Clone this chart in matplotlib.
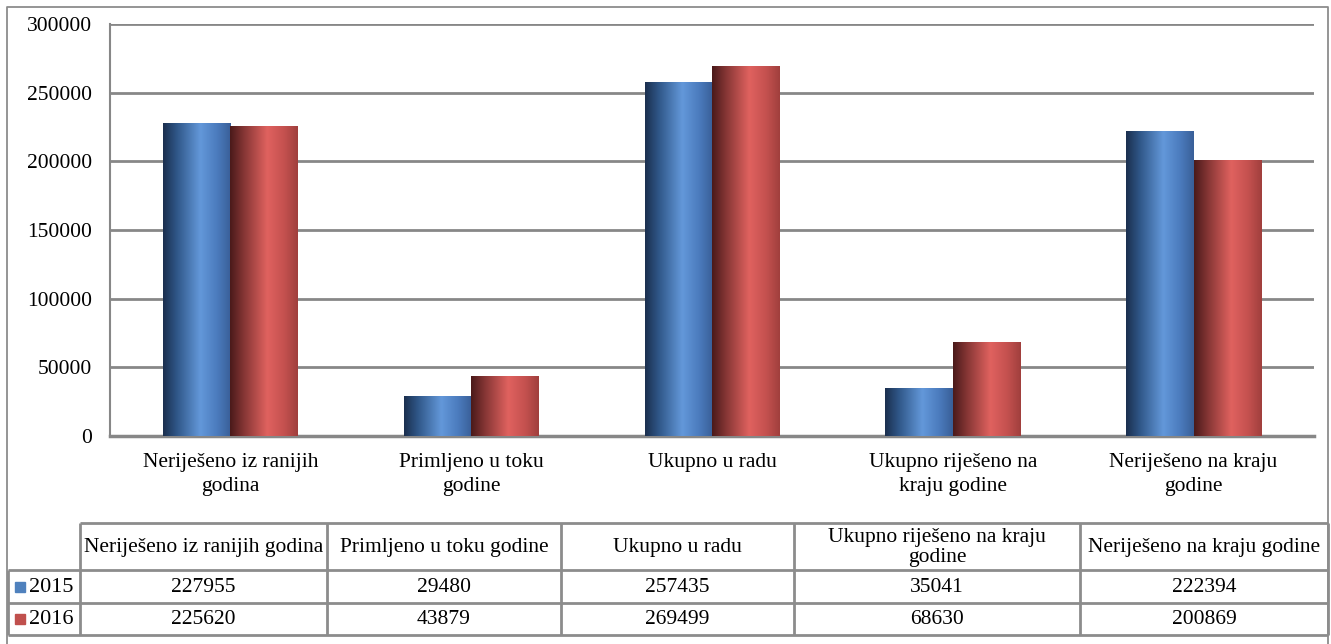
import numpy as np
import matplotlib
matplotlib.use("Agg")
import matplotlib.pyplot as plt
from matplotlib.colors import LinearSegmentedColormap

plt.rcParams['font.family'] = ['Liberation Serif', 'DejaVu Serif']

# data
categories = ['Neriješeno iz ranijih godina', 'Primljeno u toku godine', 'Ukupno u radu',
              'Ukupno riješeno na kraju godine', 'Neriješeno na kraju godine']
axis_labels = ['Neriješeno iz ranijih\ngodina', 'Primljeno u toku\ngodine', 'Ukupno u radu',
               'Ukupno riješeno na\nkraju godine', 'Neriješeno na kraju\ngodine']
table_headers = ['Neriješeno iz ranijih godina', 'Primljeno u toku godine', 'Ukupno u radu',
                 'Ukupno riješeno na kraju\ngodine', 'Neriješeno na kraju godine']
years = ['2015', '2016']
values_2015 = [227955, 29480, 257435, 35041, 222394]
values_2016 = [225620, 43879, 269499, 68630, 200869]
yticks = [0, 50000, 100000, 150000, 200000, 250000, 300000]

W, H = 1331, 644
fs = 15.5
fig = plt.figure(figsize=(W / 100, H / 100), dpi=100)

# overlay in pixel coords for border and data table
ov = fig.add_axes([0, 0, 1, 1])
ov.set_xlim(0, W)
ov.set_ylim(H, 0)
ov.axis('off')

grid_c = '#878787'
line_c = '#8c8c8c'

# outer chart frame
ov.plot([7, 7, 1328, 1328], [H + 5, 7, 7, H + 5], color=line_c, lw=1.3, solid_capstyle='butt')

# main plot area
ax = fig.add_axes([110 / W, 1 - 436 / H, (1314 - 110) / W, (436 - 24) / H])

x = np.arange(len(categories))
bw = 0.28
bars1 = ax.bar(x - bw / 2, values_2015, bw, color='#4f81bd', zorder=3, linewidth=0)
bars2 = ax.bar(x + bw / 2, values_2016, bw, color='#c0504d', zorder=3, linewidth=0)

blue_cmap = LinearSegmentedColormap.from_list(
    'b', [(0, '#1b2f4e'), (0.2, '#2f5687'), (0.55, '#6398da'), (0.8, '#4b7bbd'), (1, '#395f98')])
red_cmap = LinearSegmentedColormap.from_list(
    'r', [(0, '#4a1a1a'), (0.2, '#843534'), (0.55, '#e0625f'), (0.8, '#c4514f'), (1, '#a03f3d')])
grad = np.linspace(0, 1, 256).reshape(1, -1)

for bars, cm in [(bars1, blue_cmap), (bars2, red_cmap)]:
    for b in bars:
        x0, w, h = b.get_x(), b.get_width(), b.get_height()
        im = ax.imshow(grad, cmap=cm, aspect='auto', extent=[x0, x0 + w, 0, h],
                       zorder=4, interpolation='bicubic')
        im.set_clip_path(b)

ax.set_xlim(-0.5, len(categories) - 0.5)
ax.set_ylim(0, 300000)
ax.set_yticks(yticks)
ax.set_yticklabels([str(v) for v in yticks], fontsize=fs)
ax.set_xticks(x)
ax.set_xticklabels(axis_labels, fontsize=fs, linespacing=1.4, va='top')
ax.tick_params(axis='y', length=0, pad=13)
ax.tick_params(axis='x', length=0, pad=12)
ax.grid(axis='y', color=grid_c, lw=2, zorder=0)
ax.set_axisbelow(True)
for s in ['top', 'right']:
    ax.spines[s].set_visible(False)
ax.spines['left'].set_color(grid_c)
ax.spines['left'].set_linewidth(1.5)
ax.spines['bottom'].set_color(grid_c)
ax.spines['bottom'].set_linewidth(2.5)
ax.patch.set_alpha(0)

# data table
col_edges = [80, 327, 561, 794, 1080, 1328]
row_edges = [523, 570, 603, 635]
key_left = 8
tl = dict(color=line_c, lw=2, solid_capstyle='butt')
ov.plot([col_edges[0], col_edges[-1]], [row_edges[0]] * 2, **tl)
for r in row_edges[1:]:
    ov.plot([key_left, col_edges[-1]], [r, r], **tl)
for c in col_edges:
    ov.plot([c, c], [row_edges[0], row_edges[-1]], **tl)
ov.plot([key_left, key_left], [row_edges[1], row_edges[-1]], **tl)

for i, hdr in enumerate(table_headers):
    cx = (col_edges[i] + col_edges[i + 1]) / 2
    cy = (row_edges[0] + row_edges[1]) / 2
    ov.text(cx, cy + 1, hdr, ha='center', va='center', fontsize=fs, linespacing=1.05)

rows = [values_2015, values_2016]
key_colors = ['#4f81bd', '#c0504d']
for j, (yr, vals) in enumerate(zip(years, rows)):
    cy = (row_edges[j + 1] + row_edges[j + 2]) / 2
    ov.add_patch(plt.Rectangle((15, cy - 5), 10, 10, color=key_colors[j]))
    ov.text(29, cy + 1, yr, ha='left', va='center', fontsize=16)
    for i, v in enumerate(vals):
        cx = (col_edges[i] + col_edges[i + 1]) / 2
        ov.text(cx, cy + 1, str(v), ha='center', va='center', fontsize=fs)

fig.savefig('out.png', dpi=100)
